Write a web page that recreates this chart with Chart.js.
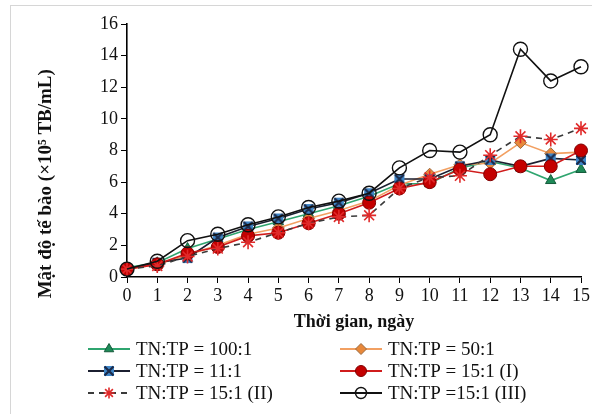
<!DOCTYPE html>
<html>
<head>
<meta charset="utf-8">
<script src="https://cdn.jsdelivr.net/npm/chart.js@4/dist/chart.umd.min.js"></script>
<style>
    html, body { margin: 0; padding: 0; background: #fff; }
    #wrap { position: relative; width: 592px; height: 414px; overflow: hidden; }
    #frame { position: absolute; left: 10px; top: 5px; width: 640px; height: 460px; border: 1px solid #d6d6d6; }
    #chart { position: absolute; left: 0; top: 0; }
</style>
</head>
<body>
<div id="wrap">
    <div id="frame"></div>
    <canvas id="chart" width="592" height="414"></canvas>
</div>
<script>
// Du lieu doc tu hinh
const days = ['0', '1', '2', '3', '4', '5', '6', '7', '8', '9', '10', '11', '12', '13', '14', '15'];
const ratio100 = [0.6, 0.9, 1.8, 2.4, 3.0, 3.5, 4.0, 4.5, 5.1, 5.9, 5.9, 6.9, 7.3, 6.9, 6.1, 6.8];
const ratio50 = [0.5, 0.8, 1.4, 2.0, 2.7, 3.1, 3.7, 4.2, 4.8, 5.8, 6.5, 7.1, 7.2, 8.5, 7.8, 7.9];
const ratio11 = [0.5, 0.9, 1.2, 2.5, 3.2, 3.7, 4.3, 4.7, 5.3, 6.2, 6.2, 7.0, 7.4, 7.0, 7.5, 7.4];
const ratio15a = [0.5, 0.8, 1.5, 1.9, 2.6, 2.8, 3.4, 4.0, 4.7, 5.6, 6.0, 6.8, 6.5, 7.0, 7.0, 8.0];
const ratio15b = [0.5, 0.7, 1.3, 1.8, 2.2, 2.8, 3.4, 3.8, 3.9, 5.6, 6.3, 6.4, 7.7, 8.9, 8.7, 9.4];
const ratio15c = [0.5, 1.0, 2.3, 2.7, 3.3, 3.8, 4.4, 4.8, 5.3, 6.9, 8.0, 7.9, 9.0, 14.4, 12.4, 13.3];
const seriesNames = ['TN:TP = 100:1', 'TN:TP = 50:1', 'TN:TP = 11:1', 'TN:TP = 15:1 (I)', 'TN:TP = 15:1 (II)', 'TN:TP =15:1 (III)'];

const serif = "'Liberation Serif', 'Times New Roman', serif";

// Marker cho 11:1: o vuong xanh co dau X
function makeCrossBox() {
    const c = document.createElement('canvas');
    c.width = 12; c.height = 12;
    const g = c.getContext('2d');
    g.fillStyle = '#3f86c8';
    g.fillRect(1, 1, 10, 10);
    g.strokeStyle = '#1b2a4a';
    g.lineWidth = 2.2;
    g.beginPath();
    g.moveTo(1.5, 1.5); g.lineTo(10.5, 10.5);
    g.moveTo(10.5, 1.5); g.lineTo(1.5, 10.5);
    g.stroke();
    return c;
}
const crossBox = makeCrossBox();

const datasets = [
    { label: seriesNames[0], data: ratio100, borderColor: '#2fa56f', backgroundColor: '#1e8a58',
      pointStyle: 'triangle', pointRadius: 6, pointBorderColor: '#145a3a', pointBackgroundColor: '#1e8a58' },
    { label: seriesNames[1], data: ratio50, borderColor: '#f2a062', backgroundColor: '#e8883a',
      pointStyle: 'rectRot', pointRadius: 6, pointBorderColor: '#9a6a40', pointBackgroundColor: '#e8883a' },
    { label: seriesNames[2], data: ratio11, borderColor: '#1b1f30', backgroundColor: '#3f86c8',
      pointStyle: crossBox, pointRadius: 6, pointBorderColor: '#1b2a4a', pointBackgroundColor: '#3f86c8' },
    { label: seriesNames[3], data: ratio15a, borderColor: '#d01c1c', backgroundColor: '#c00000',
      pointStyle: 'circle', pointRadius: 6.5, pointBorderColor: '#800000', pointBackgroundColor: '#c40000' },
    { label: seriesNames[4], data: ratio15b, borderColor: '#3a3a3a', backgroundColor: '#e03030', borderDash: [6, 5],
      pointStyle: 'star', pointRadius: 7, pointBorderColor: '#e02a2a', pointBackgroundColor: '#e02a2a', pointBorderWidth: 1.6 },
    { label: seriesNames[5], data: ratio15c, borderColor: '#111111', backgroundColor: 'rgba(0,0,0,0)',
      pointStyle: 'circle', pointRadius: 7, pointBorderColor: '#111111', pointBackgroundColor: 'rgba(0,0,0,0)', pointBorderWidth: 1.4 }
];
datasets.forEach((ds, i) => {
    ds.borderWidth = 1.6;
    ds.fill = false;
    ds.tension = 0;
    ds.order = datasets.length - i;
    if (ds.pointBorderWidth === undefined) ds.pointBorderWidth = 1;
});

// Chu giai 2 cot ve tren canvas
const legendPlugin = {
    id: 'twoColLegend',
    afterDraw(chart) {
        const ctx = chart.ctx;
        const cols = [88, 340];
        const rows = [349, 371, 393];
        ctx.save();
        chart.data.datasets.forEach((ds, i) => {
            const x = cols[i % 2];
            const y = rows[Math.floor(i / 2)];
            ctx.strokeStyle = ds.borderColor;
            ctx.lineWidth = 1.8;
            ctx.setLineDash(ds.borderDash || []);
            ctx.beginPath();
            ctx.moveTo(x, y);
            ctx.lineTo(x + 42, y);
            ctx.stroke();
            ctx.setLineDash([]);
            ctx.fillStyle = ds.pointBackgroundColor;
            ctx.strokeStyle = ds.pointBorderColor;
            ctx.lineWidth = ds.pointBorderWidth;
            Chart.helpers.drawPoint(ctx, {
                pointStyle: ds.pointStyle,
                radius: 5.5,
                rotation: 0,
                borderWidth: ds.pointBorderWidth
            }, x + 21, y);
            ctx.fillStyle = '#111';
            ctx.font = '19px ' + serif;
            ctx.textBaseline = 'middle';
            ctx.textAlign = 'left';
            ctx.fillText(ds.label, x + 48, y + 1);
        });
        ctx.restore();
    }
};

new Chart(document.getElementById('chart'), {
    type: 'line',
    data: { labels: days, datasets: datasets },
    options: {
        responsive: false,
        animation: false,
        layout: { padding: { left: 31, right: 0, top: 24, bottom: 77 } },
        plugins: {
            legend: { display: false },
            tooltip: { enabled: false }
        },
        scales: {
            x: {
                offset: false,
                grid: { drawOnChartArea: false, drawTicks: true, tickLength: 6, color: '#000' },
                border: { color: '#000', width: 1.6 },
                ticks: { color: '#111', font: { family: serif, size: 18 }, padding: 2, maxRotation: 0, autoSkip: false },
                title: { display: true, text: 'Thời gian, ngày', color: '#111',
                         font: { family: serif, size: 18, weight: 'bold' }, padding: { top: 0, bottom: 4 } },
                afterFit(scale) { scale.height = 60; }
            },
            y: {
                min: 0,
                max: 16,
                grid: { drawOnChartArea: false, drawTicks: true, tickLength: 6, color: '#000' },
                border: { color: '#000', width: 1.6 },
                ticks: { stepSize: 2, color: '#111', font: { family: serif, size: 18 }, padding: 3 },
                // khoang trang cuoi day tieu de xuong duoi giong hinh goc
                title: { display: true, text: 'Mật độ tế bào (×10⁵ TB/mL)\u2003\u2003\u2003\u2002', color: '#111',
                         font: { family: serif, size: 19, weight: 'bold' }, padding: { top: 4, bottom: 0 } },
                afterFit(scale) { scale.width = 96; }
            }
        }
    },
    plugins: [legendPlugin]
});
</script>
</body>
</html>
